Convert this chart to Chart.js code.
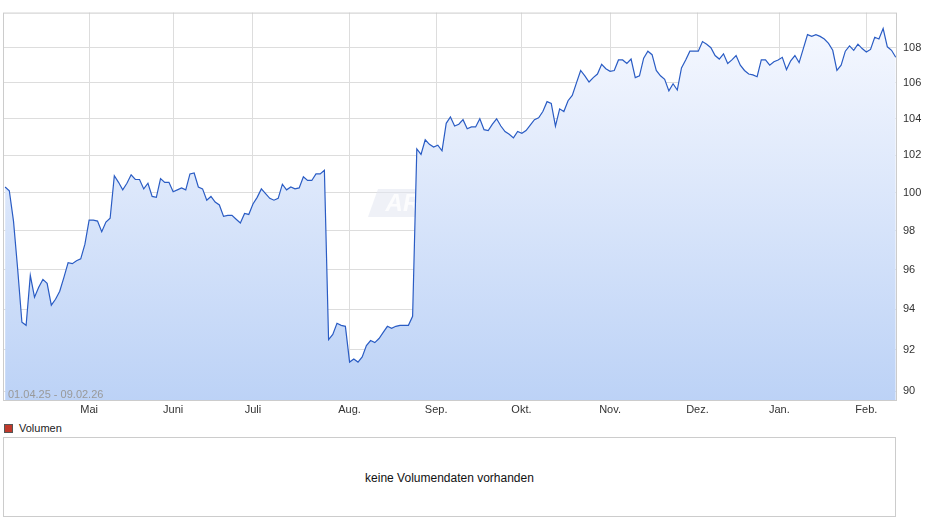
<!DOCTYPE html>
<html><head><meta charset="utf-8">
<script src="https://cdn.jsdelivr.net/npm/chart.js@4"></script>
<style>
body{margin:0;width:940px;height:526px;background:#fff;font-family:"Liberation Sans",Arial,sans-serif;position:relative;overflow:hidden}
#wrap{position:absolute;left:0;top:0;width:940px;height:420px}
#leg{position:absolute;left:4px;top:422px;font-size:11px;color:#222;line-height:12px}
#leg span{display:inline-block;width:7px;height:7px;background:#c0392b;border:1px solid #555;margin-right:6px;vertical-align:-1px}
#vol{position:absolute;left:3px;top:437px;width:893px;height:80px;border:1px solid #ccc;box-sizing:border-box;text-align:center;line-height:80px;font-size:12px;color:#111}
</style></head><body>
<div id="wrap"><canvas id="c"></canvas></div>
<div id="leg"><span></span>Volumen</div>
<div id="vol">keine Volumendaten vorhanden</div>
<script>
const prices = [
100.3,100.1,98.5,96.0,93.35,93.2,95.7,94.6,95.1,95.5,95.3,94.2,94.5,94.9,95.6,96.35,96.3,96.45,96.55,97.3,
98.55,98.55,98.5,97.95,98.45,98.65,100.9,100.55,100.15,100.5,100.95,100.7,100.7,100.2,100.5,99.8,99.75,100.75,100.55,100.55,
100.05,100.15,100.25,100.15,101.0,101.05,100.3,100.2,99.6,99.8,99.5,99.35,98.75,98.8,98.8,98.6,98.4,98.9,98.85,99.4,
99.75,100.2,99.95,99.7,99.6,99.7,100.45,100.15,100.3,100.2,100.25,100.85,100.65,100.65,101.0,101.0,101.2,
92.5,92.75,93.3,93.2,93.15,91.4,91.55,91.4,91.65,92.2,92.45,92.35,92.55,92.85,93.15,93.05,93.15,93.2,93.2,93.2,93.65,
102.35,102.05,102.85,102.6,102.45,102.55,102.25,103.75,104.1,103.6,103.7,103.95,103.45,103.55,103.55,104.0,103.4,103.35,103.7,104.0,
103.6,103.3,103.15,102.95,103.3,103.2,103.35,103.65,103.95,104.05,104.4,104.95,104.85,103.6,104.55,104.4,105.0,105.3,106.0,106.7,
106.4,106.05,106.3,106.5,
107.05,106.8,106.65,106.7,107.3,107.3,107.1,107.35,106.3,106.4,107.4,107.8,107.6,106.7,106.4,106.2,105.55,105.95,105.6,106.85,
107.3,107.8,107.8,107.8,108.35,108.2,108.0,107.55,107.35,107.65,107.1,107.3,107.55,107.0,106.7,106.5,106.45,106.35,107.3,107.3,
107.0,107.2,107.3,107.45,106.75,107.25,107.55,107.15,107.95,108.75,108.65,108.75,108.65,108.5,108.25,107.85,106.7,107.0,107.8,108.1,
107.85,108.2,107.95,107.75,107.9,108.6,108.5,109.1,108.05,107.85,107.45];
const monthLabels = ["Mai","Juni","Juli","Aug.","Sep.","Okt.","Nov.","Dez.","Jan.","Feb."];
const monthIdx = [20,40,59,82,102.6,122.9,144,164.8,184.3,205];
const yTicks = [90,92,94,96,98,100,102,104,106,108];
const rangeLabel = "01.04.25 - 09.02.26";

const pts = prices.map((v,i)=>({x:i,y:v}));
const deco = {id:'deco',
  beforeDatasetsDraw(ch){const {ctx,chartArea:a}=ch;ctx.save();
    ctx.translate((a.left+a.right)/2-10,203);
    ctx.fillStyle='rgba(225,230,240,0.55)';
    ctx.beginPath();ctx.moveTo(-62,-14);ctx.lineTo(76,-14);ctx.lineTo(66,14);ctx.lineTo(-72,14);ctx.closePath();ctx.fill();
    ctx.font='italic bold 24px "Liberation Sans"';ctx.fillStyle='rgba(255,255,255,0.8)';ctx.textAlign='center';ctx.textBaseline='middle';
    ctx.fillText('ARIVA.DE',2,1);ctx.restore();},
  afterDraw(ch){const {ctx,chartArea:a}=ch;ctx.save();
    ctx.font='11px "Liberation Sans"';ctx.fillStyle='#999';ctx.textBaseline='alphabetic';
    ctx.fillText(rangeLabel,a.left+5,a.bottom-3);
    ctx.strokeStyle='#ccc';ctx.lineWidth=1;ctx.strokeRect(a.left+0.5,a.top+0.5,a.right-a.left-1,a.bottom-a.top-1);ctx.restore();}
};
new Chart(document.getElementById('c'),{
  type:'line',
  data:{datasets:[{data:pts,borderColor:'#2a5cc4',borderWidth:1.2,pointRadius:0,tension:0,fill:'start',
    backgroundColor:(c)=>{const a=c.chart.chartArea;if(!a)return '#dde8fb';const g=c.chart.ctx.createLinearGradient(0,a.top,0,a.bottom);g.addColorStop(0,'#f7f9ff');g.addColorStop(1,'#bcd2f6');return g;}}]},
  options:{responsive:true,maintainAspectRatio:false,animation:false,
    layout:{padding:{left:3,top:3,right:0,bottom:0}},
    plugins:{legend:{display:false},tooltip:{enabled:false}},
    scales:{
      x:{type:'linear',min:-0.5,max:prices.length-0.7,
        afterBuildTicks:(s)=>{s.ticks=monthIdx.map(v=>({value:v}));},
        afterFit:(s)=>{s.height=19;},
        ticks:{autoSkip:false,maxRotation:0,padding:2,color:'#333',font:{size:11,family:'Liberation Sans'},
          callback:(v,i)=>monthLabels[i]},
        grid:{color:'#ddd',drawTicks:false},border:{display:false}},
      y:{type:'logarithmic',position:'right',min:89.53,max:110.03,
        afterBuildTicks:(s)=>{s.ticks=yTicks.map(v=>({value:v}));},
        afterFit:(s)=>{s.width=43;},
        ticks:{padding:6,color:'#333',font:{size:11,family:'Liberation Sans'},callback:(v)=>String(v)},
        grid:{color:'#ddd',drawTicks:false},border:{display:false}}
    }},
  plugins:[deco]
});
</script></body></html>
